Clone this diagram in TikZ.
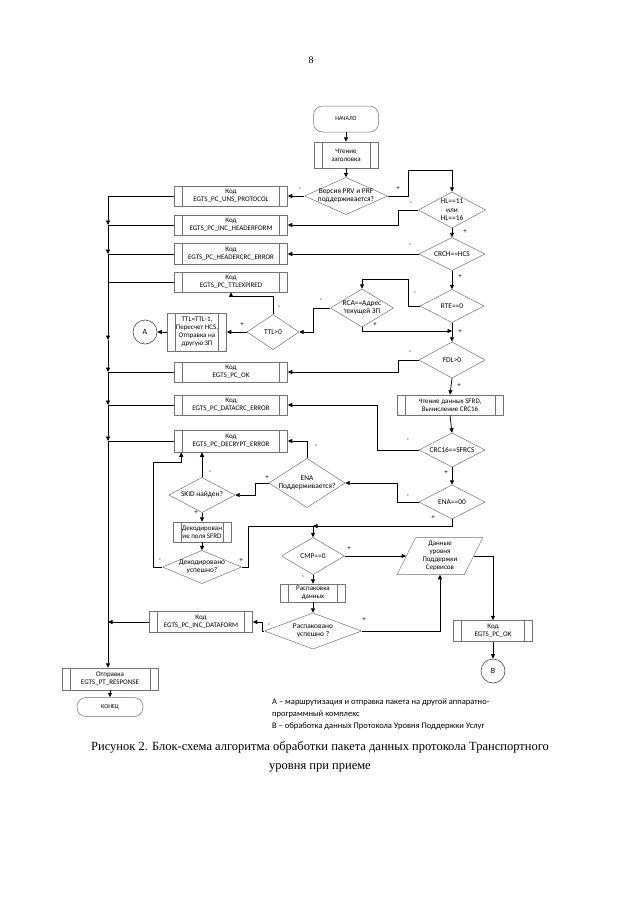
\documentclass[tikz,border=0pt]{standalone}
\usepackage{fontspec}
\setmainfont{Carlito}
\newfontfamily\seriffont{Liberation Serif}
\usetikzlibrary{arrows.meta,shapes.geometric,calc}
\begin{document}
\begin{tikzpicture}[x=1pt,y=-1pt,
  font=\fontsize{7}{8}\selectfont,
  every node/.style={inner sep=0pt, align=center},
  box/.style={black!55, line width=0.5pt},
  proc/.style 2 args={draw=black!55, line width=0.5pt, rectangle, minimum width=#1, minimum height=#2,
    text=black,
    path picture={\draw[box] ([xshift=8pt]path picture bounding box.north west) -- ([xshift=8pt]path picture bounding box.south west)
      ([xshift=-8pt]path picture bounding box.north east) -- ([xshift=-8pt]path picture bounding box.south east);}},
  dia/.style 2 args={rectangle, minimum width=#1, minimum height=#2, font=\fontsize{7.4}{8.4}\selectfont,
    path picture={\draw[box] (path picture bounding box.north) -- (path picture bounding box.east) -- (path picture bounding box.south) -- (path picture bounding box.west) -- cycle;}},
  term/.style 2 args={draw=black!55, line width=0.5pt, rectangle, rounded corners=9pt, minimum width=#1, minimum height=#2, font=\fontsize{6}{7}\selectfont},
  circ/.style={draw=black!70, line width=0.6pt, circle, minimum size=24pt, font=\fontsize{8}{9}\selectfont},
  para/.style={draw=black!55, line width=0.5pt, trapezium, trapezium left angle=66, trapezium right angle=114, trapezium stretches=true, minimum width=86pt, minimum height=37pt},
  conn/.style={draw, line width=0.75pt},
  arr/.style={conn, -{Triangle[length=4.5pt,width=4pt]}},
  lbl/.style={font=\fontsize{7}{8}\selectfont}
]
\useasboundingbox[fill=white] (0,0) rectangle (640,905);

\node[font=\seriffont\fontsize{10}{12}\selectfont] (pg) at (311,60) {8};

% main column
\node[term={65pt}{26pt}] (start) at (346,119) {НАЧАЛО};
\node[proc={64pt}{26pt}] (p1) at (346,155) {Чтение\\заголовка};
\node[dia={83pt}{37pt}] (d1) at (346,196) {Версия PRV и PRF\\поддерживается?};
\node[dia={67pt}{36pt}] (d2) at (452,210) {HL==11\\или\\HL==16};
\node[dia={66pt}{33pt}] (d3) at (452,254) {CRCH==HCS};
\node[dia={64pt}{33pt}] (d4) at (452,306) {RTE==0};
\node[dia={63pt}{38pt}] (d5) at (362,308) {RCA==Адрес\\текущей ЗП};
\node[dia={52pt}{35pt}] (d6) at (273,332) {TTL>0};
\node[dia={66pt}{36pt}] (d7) at (452,360) {FDL>0};
\node[proc={106pt}{20pt}] (psfrd) at (450,405) {Чтение данных SFRD,\\Вычисление CRC16};
\node[dia={66pt}{34pt}] (d8) at (452,450) {CRC16==SFRCS};
\node[dia={66pt}{34pt}] (d9) at (452,502) {ENA==00};
\node[dia={76pt}{49pt}] (d10) at (307,483) {ENA\\Поддерживается?};
\node[dia={66pt}{35pt}] (d11) at (202,495) {SKID найден?};
\node[proc={58pt}{20pt}] (bdecode) at (202,532) {Декодирован\\ие поля SFRD};
\node[dia={79pt}{33pt}] (d12) at (202,567) {Декодировано\\успешно?};
\node[dia={63pt}{37pt}] (d13) at (313,556) {CMP==0};
\node[proc={65pt}{18pt}] (bunp) at (313,593) {Распаковка\\данных};
\node[dia={97pt}{36pt}] (d14) at (313,631) {Распаковано\\успешно ?};
\node[para] (par) at (440,556) {Данные\\уровня\\Поддержки\\Сервисов};
\node[proc={79pt}{21pt}] (bok2) at (493,631) {Код\\EGTS\_PC\_OK};
\node[circ] (B) at (493,671) {B};

% left boxes
\node[proc={113pt}{20pt}] (buns) at (231,196) {Код\\EGTS\_PC\_UNS\_PROTOCOL};
\node[proc={113pt}{20pt}] (bhdr) at (231,225) {Код\\EGTS\_PC\_INC\_HEADERFORM};
\node[proc={113pt}{21pt}] (bcrc) at (231,254) {Код\\EGTS\_PC\_HEADERCRC\_ERROR};
\node[proc={113pt}{20pt}] (bexp) at (231,282) {Код\\EGTS\_PC\_TTLEXPIRED};
\node[proc={59pt}{38pt}] (bttl) at (197,332) {TTL=TTL-1,\\Пересчет HCS,\\Отправка на\\другую ЗП};
\node[circ] (A) at (145,332) {A};
\node[proc={113pt}{20pt}] (bok1) at (231,372) {Код\\EGTS\_PC\_OK};
\node[proc={113pt}{20pt}] (bdcrc) at (231,405) {Код\\EGTS\_PC\_DATACRC\_ERROR};
\node[proc={113pt}{22pt}] (bdec) at (231,441) {Код\\EGTS\_PC\_DECRYPT\_ERROR};
\node[proc={103pt}{21pt}] (bdf) at (201,622) {Код\\EGTS\_PC\_INC\_DATAFORM};
\node[proc={96pt}{22pt}] (bresp) at (110,679) {Отправка\\EGTS\_PT\_RESPONSE};
\node[term={66pt}{19pt}] (end) at (110,707) {КОНЕЦ};

% junction coordinates
\coordinate (j1) at (452,331);
\coordinate (j2) at (313,526);
\coordinate (t1) at (108,196);
\coordinate (t2) at (108,225);
\coordinate (t3) at (108,254);
\coordinate (t4) at (108,282);
\coordinate (tm) at (108,340);
\coordinate (t5) at (108,372);
\coordinate (t6) at (108,405);
\coordinate (t7) at (108,441);
\coordinate (t8) at (108,622);

% connectors
\draw[arr] (start.south) -- (p1.north);
\draw[arr] (p1.south) -- (d1.north);
\draw[arr] (d1.west) -- (buns.east);
\draw[arr] (d1.east) -- (408,196) -- (408,170) -| (d2.north);
\draw[arr] (d2.west) -- (398,210) |- (bhdr.east);
\draw[arr] (d2.south) -- (d3.north);
\draw[arr] (d3.west) -- (bcrc.east);
\draw[arr] (d3.south) -- (d4.north);
\draw[arr] (d4.west) -- (408,306) -- (408,279) -| (d5.north);
\draw[arr] (d5.south) |- (j1);
\draw[arr] (d4.south) -- (d7.north);
\draw[arr] (d5.west) -- (313,308) |- (d6.east);
\draw[arr] (d6.west) -- (bttl.east);
\draw[arr] (d6.north) -- (273,296) -| (bexp.south);
\draw[arr] (bttl.west) -- (A.east);
\draw[arr] (d7.west) -- (398,360) |- (bok1.east);
\draw[arr] (d7.south) -- (psfrd.north);
\draw[arr] (psfrd.south) -- (d8.north);
\draw[arr] (d8.west) -- (377,450) |- (bdcrc.east);
\draw[arr] (d8.south) -- (d9.north);
\draw[arr] (d9.west) -- (397,502) |- (d10.east);
\draw[arr] (d9.south) |- (j2);
\draw[conn] (d12.east) -- (248,567) |- (j2);
\draw[arr] (j2) -- (d13.north);
\draw[arr] (d10.north) |- (bdec.east);
\draw[arr] (d10.west) -- (255,483) |- (d11.east);
\draw[arr] (d11.north) -- (d11.north |- bdec.south);
\draw[arr] (d11.south) -- (bdecode.north);
\draw[arr] (bdecode.south) -- (d12.north);
\draw[arr] (d12.west) -- (153,567) -- (153,462) -| ($(bdec.south west)+(7,0)$);
\draw[arr] (d13.east) -- (par.left side);
\draw[arr] (par.right side) -| (bok2.north);
\draw[arr] (d13.south) -- (bunp.north);
\draw[arr] (bunp.south) -- (d14.north);
\draw[arr] (d14.west) -- (262,631) |- (bdf.east);
\draw[arr] (d14.east) -| (par.south);
\draw[arr] (bdf.west) -- (t8);
\draw[arr] (bok2.south) -- (B.north);
\draw[arr] (bresp.south) -- (end.north);

% trunk
\draw[conn] (buns.west) -- (t1);
\draw[conn] (bhdr.west) -- (t2);
\draw[conn] (bcrc.west) -- (t3);
\draw[conn] (bexp.west) -- (t4);
\draw[conn] (bok1.west) -- (t5);
\draw[conn] (bdcrc.west) -- (t6);
\draw[conn] (bdec.west) -- (t7);
\draw[arr] (t1) -- (t2);
\draw[arr] (t2) -- (t3);
\draw[conn] (t3) -- (t4);
\draw[arr] (t4) -- (tm);
\draw[arr] (tm) -- (t5);
\draw[arr] (t5) -- (t6);
\draw[arr] (t6) -- (t7);
\draw[arr] (t7) -- (t7 |- bresp.north);

% branch labels
\node[lbl] (l1) at (300,189) {-};
\node[lbl] (l2) at (398,189) {+};
\node[lbl] (l3) at (411,203) {-};
\node[lbl] (l4) at (465,232) {+};
\node[lbl] (l5) at (410,245) {-};
\node[lbl] (l6) at (460,277) {+};
\node[lbl] (l7) at (415,293) {-};
\node[lbl] (l8) at (460,332) {+};
\node[lbl] (l9) at (375,325) {+};
\node[lbl] (l10) at (321,300) {-};
\node[lbl] (l11) at (242,325) {+};
\node[lbl] (l12) at (279,307) {-};
\node[lbl] (l13) at (410,352) {-};
\node[lbl] (l14) at (459,386) {+};
\node[lbl] (l15) at (408,440) {-};
\node[lbl] (l16) at (446,473) {+};
\node[lbl] (l17) at (408,496) {-};
\node[lbl] (l18) at (433,518) {+};
\node[lbl] (l19) at (316,446) {-};
\node[lbl] (l20) at (267,478) {+};
\node[lbl] (l21) at (210,472) {-};
\node[lbl] (l22) at (196,513) {+};
\node[lbl] (l23) at (160,560) {-};
\node[lbl] (l24) at (241,561) {+};
\node[lbl] (l25) at (349,549) {+};
\node[lbl] (l26) at (303,577) {-};
\node[lbl] (l27) at (269,625) {-};
\node[lbl] (l28) at (364,620) {+};

% notes and caption
\node[anchor=north west, align=left, font=\fontsize{8.5}{12}\selectfont] (notes) at (272,699)
  {А – маршрутизация и отправка пакета на другой аппаратно-\\программный комплекс\\В – обработка данных Протокола Уровня Поддержки Услуг};
\node[font=\seriffont\fontsize{12.5}{19}\selectfont, align=center] (cap) at (320,757)
  {Рисунок 2. Блок-схема алгоритма обработки пакета данных протокола Транспортного\\уровня при приеме};
\end{tikzpicture}
\end{document}
